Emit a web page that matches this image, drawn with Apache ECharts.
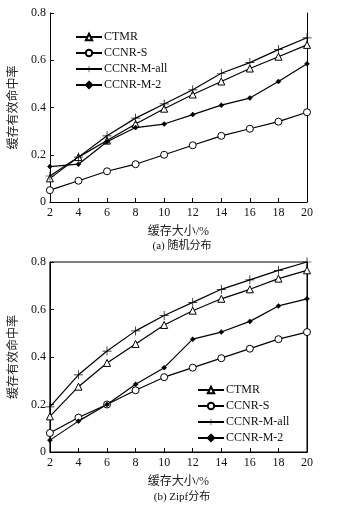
<!DOCTYPE html>
<html>
<head>
<meta charset="utf-8">
<script src="https://cdn.jsdelivr.net/npm/echarts@6/dist/echarts.min.js"></script>
<style>
html, body { margin: 0; padding: 0; background: #fff; }
#main { width: 347px; height: 506px; }
</style>
</head>
<body>
<div id="main"></div>
<script>
var cacheSize = [2, 4, 6, 8, 10, 12, 14, 16, 18, 20];
var seriesNames = ['CTMR', 'CCNR-S', 'CCNR-M-all', 'CCNR-M-2'];

// (a) 随机分布
var randCTMR = [0.10, 0.19, 0.26, 0.33, 0.395, 0.455, 0.51, 0.565, 0.615, 0.665];
var randS    = [0.05, 0.09, 0.13, 0.16, 0.20, 0.24, 0.28, 0.31, 0.34, 0.38];
var randAll  = [0.11, 0.19, 0.28, 0.355, 0.415, 0.475, 0.545, 0.59, 0.645, 0.695];
var randM2   = [0.15, 0.16, 0.255, 0.315, 0.33, 0.37, 0.41, 0.44, 0.51, 0.585];

// (b) Zipf分布
var zipfCTMR = [0.15, 0.275, 0.375, 0.455, 0.535, 0.595, 0.645, 0.685, 0.73, 0.765];
var zipfS    = [0.08, 0.145, 0.20, 0.26, 0.315, 0.355, 0.395, 0.435, 0.475, 0.505];
var zipfAll  = [0.19, 0.325, 0.425, 0.51, 0.575, 0.63, 0.685, 0.725, 0.765, 0.80];
var zipfM2   = [0.05, 0.13, 0.20, 0.285, 0.355, 0.475, 0.505, 0.55, 0.615, 0.645];

var serif = '"Liberation Serif", "Noto Sans CJK SC", serif';
var plus = 'path://M4.6,0H5.4V4.6H10V5.4H5.4V10H4.6V5.4H0V4.6H4.6Z';

var symbols = [
  { symbol: 'triangle', size: 7, fill: '#fff', border: 1 },
  { symbol: 'circle', size: 7, fill: '#fff', border: 1 },
  { symbol: plus, size: 9, fill: '#000', border: 0 },
  { symbol: 'diamond', size: 5, fill: '#000', border: 0.5 }
];

function pairs(ys) {
  return cacheSize.map(function (x, i) { return [x, ys[i]]; });
}

function makeSeries(dataSets, idx) {
  return dataSets.map(function (ys, k) {
    var s = symbols[k];
    return {
      name: seriesNames[k],
      type: 'line',
      xAxisIndex: idx,
      yAxisIndex: idx * 2,
      data: pairs(ys),
      symbol: s.symbol,
      symbolSize: s.size,
      showAllSymbol: true,
      lineStyle: { color: '#000', width: 1.2 },
      itemStyle: { color: s.fill, borderColor: '#000', borderWidth: s.border },
      emphasis: { disabled: true },
      z: 3 + k
    };
  });
}

function xAx(idx) {
  return {
    type: 'value', gridIndex: idx, min: 2, max: 20, interval: 2,
    name: '缓存大小/%', nameLocation: 'middle', nameGap: 24,
    nameTextStyle: { fontFamily: serif, fontSize: 12, color: '#222' },
    axisLine: { lineStyle: { color: '#000', width: 1 } },
    axisTick: { inside: true, length: 4, lineStyle: { color: '#000' } },
    axisLabel: { fontFamily: serif, fontSize: 12, color: '#111', margin: 5 },
    splitLine: { show: false }
  };
}

function yAx(idx) {
  return [{
    type: 'value', gridIndex: idx, min: 0, max: 0.8, interval: 0.2,
    name: '缓存有效命中率', nameLocation: 'middle', nameGap: 25, nameRotate: 90,
    nameTextStyle: { fontFamily: serif, fontSize: 12, color: '#222' },
    axisLine: { show: true, lineStyle: { color: '#000', width: 1 } },
    axisTick: { show: true, inside: true, length: 4, lineStyle: { color: '#000' } },
    axisLabel: {
      fontFamily: serif, fontSize: 12, color: '#111', margin: 4,
      formatter: function (v) { return v === 0 ? '0' : v.toFixed(1); }
    },
    splitLine: { show: false }
  }, {
    type: 'value', gridIndex: idx, position: 'right', min: 0, max: 0.8, interval: 0.2,
    axisLine: { show: true, onZero: false, lineStyle: { color: '#000', width: 1 } },
    axisTick: { show: false }, axisLabel: { show: false }, splitLine: { show: false }
  }];
}

var legendStyle = {
  orient: 'vertical', itemWidth: 26, itemHeight: 8, itemGap: 4,
  textStyle: { fontFamily: serif, fontSize: 12, color: '#111', padding: [0, 0, 0, -3] },
  inactiveColor: '#000'
};

var chart = echarts.init(document.getElementById('main'));
chart.setOption({
  backgroundColor: '#fff',
  animation: false,
  title: [
    { text: '(a) 随机分布', left: 177, top: 236, textAlign: 'center',
      textStyle: { fontFamily: serif, fontSize: 11, fontWeight: 'normal', color: '#111' } },
    { text: '(b) Zipf分布', left: 177, top: 487, textAlign: 'center',
      textStyle: { fontFamily: serif, fontSize: 11, fontWeight: 'normal', color: '#111' } }
  ],
  legend: [
    Object.assign({ left: 70, top: 26, data: seriesNames }, legendStyle),
    Object.assign({ left: 192, top: 379, data: seriesNames }, legendStyle)
  ],
  grid: [
    { left: 47, top: 13, width: 260, height: 189 },
    { left: 47, top: 262, width: 260, height: 190, show: true, borderColor: '#000', borderWidth: 1 }
  ],
  xAxis: [xAx(0), xAx(1)],
  yAxis: yAx(0).concat(yAx(1)),
  series: makeSeries([randCTMR, randS, randAll, randM2], 0)
    .concat(makeSeries([zipfCTMR, zipfS, zipfAll, zipfM2], 1))
});
</script>
</body>
</html>
